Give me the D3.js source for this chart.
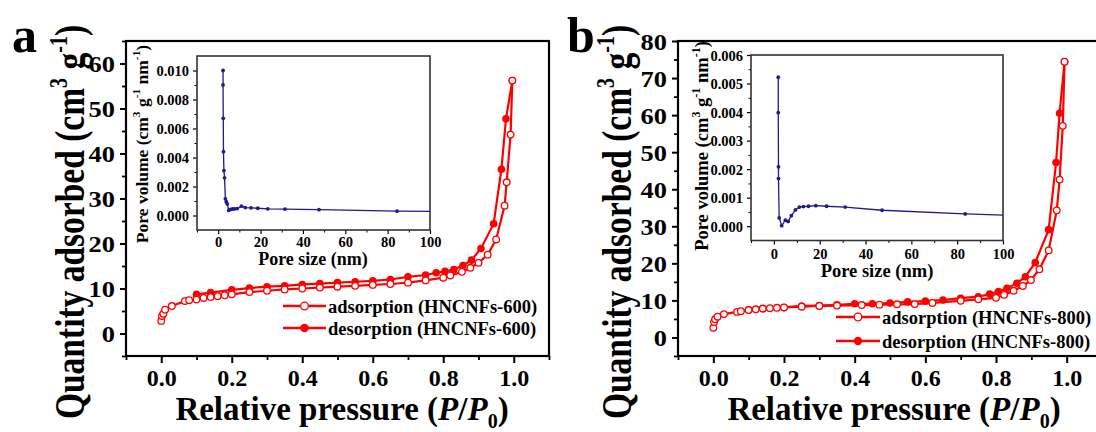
<!DOCTYPE html>
<html><head><meta charset="utf-8">
<script src="https://cdn.jsdelivr.net/npm/d3@7"></script>
<style>
html,body{margin:0;padding:0;background:#fff;}
svg{display:block;}
text{font-family:'Liberation Serif','Times New Roman',serif;font-weight:bold;}
</style></head>
<body>
<svg id="c" width="1096" height="432"></svg>
<script>
// ---------- data ----------
const xTicksMain = [0, 0.2, 0.4, 0.6, 0.8, 1.0];
const yTicksA = [0, 10, 20, 30, 40, 50, 60];
const yTicksB = [0, 10, 20, 30, 40, 50, 60, 70, 80];
const insetXTicks = [0, 20, 40, 60, 80, 100];
const insetYTicksA = [0, 0.002, 0.004, 0.006, 0.008, 0.010];
const insetYTicksB = [0, 0.001, 0.002, 0.003, 0.004, 0.005, 0.006];

// Panel a: HNCNFs-600
const pA_ads = [0,0.002,0.006,0.011,0.03,0.067,0.079,0.1,0.12,0.14,0.16,0.18,0.2,0.25,0.3,0.35,0.4,0.45,0.5,0.55,0.6,0.65,0.7,0.75,0.8,0.82,0.853,0.877,0.9,0.926,0.95,0.974,0.98,0.991,0.996];
const qA_ads = [2.8,3.9,4.4,5.3,6.1,7.2,7.4,7.55,7.9,8.1,8.3,8.5,8.7,9.2,9.5,9.8,10.0,10.2,10.4,10.6,10.8,11.0,11.3,11.8,12.4,12.9,13.7,14.6,15.7,17.5,20.9,28.4,33.6,44.2,56.2];
const pA_des = [0.996,0.978,0.965,0.943,0.907,0.88,0.856,0.83,0.805,0.78,0.75,0.7,0.65,0.6,0.55,0.5,0.45,0.4,0.35,0.3,0.25,0.2,0.14,0.1];
const qA_des = [56.2,47.7,36.5,24.4,18.9,16.3,15.1,14.2,13.8,13.5,13.0,12.6,12.0,11.7,11.5,11.3,11.1,10.9,10.6,10.4,10.1,9.7,9.1,8.7];
// Panel a inset: pore size distribution
const dA = [2.3,2.3,2.4,2.5,2.7,3.0,3.4,3.8,4.3,5.0,5.8,6.8,7.8,9.0,11,12.8,15.5,18.7,23.4,31.5,47.6,84.4,110];
const vA = [0.0100,0.0090,0.0067,0.0044,0.0031,0.0026,0.00115,0.00095,0.0008,0.00035,0.00042,0.00045,0.00046,0.00048,0.00064,0.00055,0.00053,0.0005,0.00046,0.00044,0.0004,0.0003,0.00027];

// Panel b: HNCNFs-800
const pB_ads = [0,0.002,0.005,0.012,0.03,0.067,0.078,0.1,0.12,0.14,0.16,0.18,0.2,0.25,0.3,0.35,0.42,0.47,0.52,0.57,0.62,0.7,0.75,0.8,0.823,0.85,0.876,0.899,0.923,0.949,0.972,0.98,0.989,0.994];
const qB_ads = [2.6,4.2,4.9,5.6,6.3,6.9,7.1,7.4,7.6,7.8,7.9,8.0,8.1,8.3,8.5,8.6,8.75,8.85,8.95,9.0,9.3,9.9,10.3,10.7,11.5,12.6,13.9,15.5,18.4,23.5,34.3,42.6,57.1,74.4];
const pB_des = [0.994,0.98,0.97,0.949,0.911,0.883,0.859,0.831,0.807,0.782,0.75,0.7,0.65,0.6,0.55,0.5,0.45,0.4,0.35,0.3,0.25,0.2,0.14,0.1];
const qB_des = [74.4,60.5,47.2,29.1,20.2,16.4,14.6,13.3,12.4,11.7,11.0,10.6,10.1,9.8,9.6,9.3,9.1,9.1,8.8,8.6,8.5,8.1,7.75,7.4];
const dB = [1.9,1.9,2.0,2.0,2.3,3.4,5.0,6.2,7.6,9.4,11.1,12.9,15.1,18.3,23,31.1,47.2,83.5,110];
const vB = [0.00522,0.00398,0.00208,0.00167,0.00029,0.00002,0.00021,0.00017,0.00037,0.00057,0.00067,0.00069,0.0007,0.00072,0.0007,0.00067,0.00056,0.00043,0.00036];

const legendA = ["adsorption (HNCNFs-600)", "desorption (HNCNFs-600)"];
const legendB = ["adsorption (HNCNFs-800)", "desorption (HNCNFs-800)"];

// ---------- drawing ----------
const svg = d3.select("#c");
const RED = "#ff0000", NAVY = "#1c1c8a";

function zip(a, b){ return a.map((v,i)=>[v, b[i]]); }

function styleAxis(g, w){
  g.select(".domain").remove();
  g.selectAll(".tick line").attr("stroke","#000").attr("stroke-width", w);
}

function drawPanel(cfg){
  const g = svg.append("g");
  const x = d3.scaleLinear().domain([-0.1, 1.1]).range([cfg.left, cfg.right]);
  const y = d3.scaleLinear().domain(cfg.yDomain).range([356, 41]);

  // minor + major ticks (outward)
  const minorX = d3.range(-0.1, 1.11, 0.1).filter(v => Math.abs(Math.round(v*10)%2) === 1);
  g.append("g").attr("transform","translate(0,356)")
    .call(d3.axisBottom(x).tickValues(minorX).tickSize(4).tickFormat(""))
    .call(a => styleAxis(a, 1.8));
  const xa = g.append("g").attr("transform","translate(0,356)")
    .call(d3.axisBottom(x).tickValues(xTicksMain).tickSize(7).tickPadding(8).tickFormat(d3.format(".1f")))
    .call(a => styleAxis(a, 2));
  xa.selectAll("text").attr("font-size", 24).attr("fill","#000").attr("dy", 0).attr("y", 30);

  const minorY = d3.range(cfg.yDomain[0], cfg.yDomain[1] + 0.1, 5).filter(v => v % 10 !== 0);
  g.append("g").attr("transform",`translate(${cfg.left},0)`)
    .call(d3.axisLeft(y).tickValues(minorY).tickSize(4).tickFormat(""))
    .call(a => styleAxis(a, 1.8));
  const ya = g.append("g").attr("transform",`translate(${cfg.left},0)`)
    .call(d3.axisLeft(y).tickValues(cfg.yTicks).tickSize(6).tickPadding(4).tickFormat(d3.format("d")))
    .call(a => styleAxis(a, 2));
  ya.selectAll("text").attr("font-size", 24).attr("fill","#000").attr("dy","0.35em")
    .attr("transform","scale(1.1,1)");

  // frame
  g.append("rect").attr("x", cfg.left).attr("y", 41)
    .attr("width", cfg.right - cfg.left).attr("height", 315)
    .attr("fill","none").attr("stroke","#000").attr("stroke-width", 2.2);

  // isotherm curves
  const clipId = "clip" + cfg.id;
  svg.append("clipPath").attr("id", clipId).append("rect")
    .attr("x", cfg.left).attr("y", 41).attr("width", cfg.right - cfg.left).attr("height", 315);
  const plot = g.append("g").attr("clip-path", `url(#${clipId})`);
  const line = d3.line().x(d => x(d[0])).y(d => y(d[1]));
  const ads = zip(cfg.pAds, cfg.qAds), des = zip(cfg.pDes, cfg.qDes);
  plot.append("path").datum(des).attr("d", line).attr("fill","none").attr("stroke",RED).attr("stroke-width",2.2);
  plot.append("path").datum(ads).attr("d", line).attr("fill","none").attr("stroke",RED).attr("stroke-width",2.2);
  plot.selectAll("circle.des").data(des).join("circle").attr("class","des")
    .attr("cx", d => x(d[0])).attr("cy", d => y(d[1])).attr("r", 3.8).attr("fill", RED);
  plot.selectAll("circle.ads").data(ads).join("circle").attr("class","ads")
    .attr("cx", d => x(d[0])).attr("cy", d => y(d[1])).attr("r", 3.3)
    .attr("fill","#fff").attr("stroke",RED).attr("stroke-width",1.3);

  // legend
  const L = cfg.legend;
  cfg.legendLabels.forEach((lab, i) => {
    const yy = L.y0 + i * L.dy;
    g.append("line").attr("x1", L.x1).attr("x2", L.x2).attr("y1", yy).attr("y2", yy)
      .attr("stroke", RED).attr("stroke-width", 2.4);
    const c = g.append("circle").attr("cx", (L.x1 + L.x2)/2).attr("cy", yy);
    if (i === 0) c.attr("r", 3.8).attr("fill","#fff").attr("stroke",RED).attr("stroke-width",1.3);
    else c.attr("r", 4.2).attr("fill", RED);
    g.append("text").attr("x", L.x2 + 2).attr("y", yy + 6.5).attr("font-size", 18.5).text(lab);
  });

  // axis titles
  const xt = g.append("text").attr("x", cfg.xTitleX).attr("y", 420)
    .attr("text-anchor","middle").attr("font-size", 33);
  xt.append("tspan").text("Relative pressure (");
  xt.append("tspan").attr("font-style","italic").text("P");
  xt.append("tspan").text("/");
  xt.append("tspan").attr("font-style","italic").text("P");
  xt.append("tspan").attr("font-size", 20).attr("dy", 8).text("0");
  xt.append("tspan").attr("dy", -8).text(")");

  const yt = g.append("text")
    .attr("transform", `translate(${cfg.yTitleX},${cfg.yTitleY}) rotate(-90) scale(1,1.25)`)
    .attr("text-anchor","middle").attr("font-size", 33.5);
  yt.append("tspan").text("Quantity adsorbed (cm");
  yt.append("tspan").attr("font-size", 20).attr("dy", -14).text("3");
  yt.append("tspan").attr("dy", 14).text(" g");
  yt.append("tspan").attr("font-size", 20).attr("dy", -14).text("-1");
  yt.append("tspan").attr("dy", 14).text(")");

  g.append("text").attr("x", cfg.letterX).attr("y", 52).attr("font-size", 50).text(cfg.letter);

  // ---------- inset ----------
  const I = cfg.inset;
  const ix = d3.scaleLinear().domain([-10, 100]).range([I.left, I.right]);
  const iy = d3.scaleLinear().domain(I.yDomain).range([I.bottom, I.top]);
  const ig = g.append("g");
  ig.append("rect").attr("x", I.left).attr("y", I.top).attr("width", I.right - I.left)
    .attr("height", I.bottom - I.top).attr("fill","#fff");
  const iminX = d3.range(-10, 101, 10).filter(v => v % 20 !== 0);
  ig.append("g").attr("transform",`translate(0,${I.bottom})`)
    .call(d3.axisBottom(ix).tickValues(iminX).tickSize(2.5).tickFormat(""))
    .call(a => styleAxis(a, 1));
  const ixa = ig.append("g").attr("transform",`translate(0,${I.bottom})`)
    .call(d3.axisBottom(ix).tickValues(insetXTicks).tickSize(4).tickFormat(d3.format("d")))
    .call(a => styleAxis(a, 1.2));
  ixa.selectAll("text").attr("font-size", I.fs).attr("fill","#000").attr("dy",0).attr("y", I.xLabY);
  ig.append("g").attr("transform",`translate(${I.left},0)`)
    .call(d3.axisLeft(iy).tickValues(I.yMinor).tickSize(2.5).tickFormat(""))
    .call(a => styleAxis(a, 1));
  const iya = ig.append("g").attr("transform",`translate(${I.left},0)`)
    .call(d3.axisLeft(iy).tickValues(I.yTicks).tickSize(4).tickPadding(4).tickFormat(d3.format(".3f")))
    .call(a => styleAxis(a, 1.2));
  iya.selectAll("text").attr("font-size", I.fs).attr("fill","#000").attr("dy","0.35em");
  ig.append("rect").attr("x", I.left).attr("y", I.top).attr("width", I.right - I.left)
    .attr("height", I.bottom - I.top).attr("fill","none").attr("stroke","#333").attr("stroke-width", 1.6);

  const iclip = "iclip" + cfg.id;
  svg.append("clipPath").attr("id", iclip).append("rect")
    .attr("x", I.left).attr("y", I.top).attr("width", I.right - I.left).attr("height", I.bottom - I.top);
  const ip = ig.append("g").attr("clip-path", `url(#${iclip})`);
  const pts = zip(cfg.dPore, cfg.vPore);
  ip.append("path").datum(pts).attr("d", d3.line().x(d => ix(d[0])).y(d => iy(d[1])))
    .attr("fill","none").attr("stroke", NAVY).attr("stroke-width", 1.3);
  ip.selectAll("circle").data(pts).join("circle")
    .attr("cx", d => ix(d[0])).attr("cy", d => iy(d[1])).attr("r", 1.9).attr("fill", NAVY);

  ig.append("text").attr("x", I.xTitleX).attr("y", I.xTitleY).attr("text-anchor","middle")
    .attr("font-size", I.fsT).text("Pore size (nm)");
  const iyt = ig.append("text")
    .attr("transform", `translate(${I.yTitleX},${I.yTitleY}) rotate(-90)`)
    .attr("text-anchor","middle").attr("font-size", I.fsY);
  const sup = I.fsY * 0.65, sh = I.fsY * 0.45;
  iyt.append("tspan").text("Pore volume (cm");
  iyt.append("tspan").attr("font-size", sup).attr("dy", -sh).text("3");
  iyt.append("tspan").attr("dy", sh).text(" g");
  iyt.append("tspan").attr("font-size", sup).attr("dy", -sh).text("-1");
  iyt.append("tspan").attr("dy", sh).text(" nm");
  iyt.append("tspan").attr("font-size", sup).attr("dy", -sh).text("-1");
  iyt.append("tspan").attr("dy", sh).text(")");
}

drawPanel({
  id: "a", letter: "a", letterX: 12,
  left: 126, right: 549, yDomain: [-5, 65], yTicks: yTicksA,
  pAds: pA_ads, qAds: qA_ads, pDes: pA_des, qDes: qA_des,
  legendLabels: legendA, legend: {x1: 283, x2: 326, y0: 306, dy: 22},
  xTitleX: 342, yTitleX: 84, yTitleY: 222,
  inset: {left: 197, right: 430, top: 56, bottom: 230, yDomain: [-0.001, 0.011],
          yTicks: insetYTicksA, yMinor: [0.001,0.003,0.005,0.007,0.009],
          fs: 14.5, fsT: 18, fsY: 17.5, xLabY: 17,
          xTitleX: 313, xTitleY: 265, yTitleX: 148, yTitleY: 144},
  dPore: dA, vPore: vA
});

drawPanel({
  id: "b", letter: "b", letterX: 567,
  left: 678, right: 1102, yDomain: [-5, 80], yTicks: yTicksB,
  pAds: pB_ads, qAds: qB_ads, pDes: pB_des, qDes: qB_des,
  legendLabels: legendB, legend: {x1: 836, x2: 880, y0: 317, dy: 24},
  xTitleX: 894, yTitleX: 631, yTitleY: 222,
  inset: {left: 751, right: 1003, top: 55, bottom: 240.5, yDomain: [-0.0005, 0.006],
          yTicks: insetYTicksB, yMinor: [0.0005,0.0015,0.0025,0.0035,0.0045,0.0055],
          fs: 14.5, fsT: 18.5, fsY: 18.5, xLabY: 18,
          xTitleX: 877, xTitleY: 277, yTitleX: 708, yTitleY: 146},
  dPore: dB, vPore: vB
});
</script>
</body></html>
